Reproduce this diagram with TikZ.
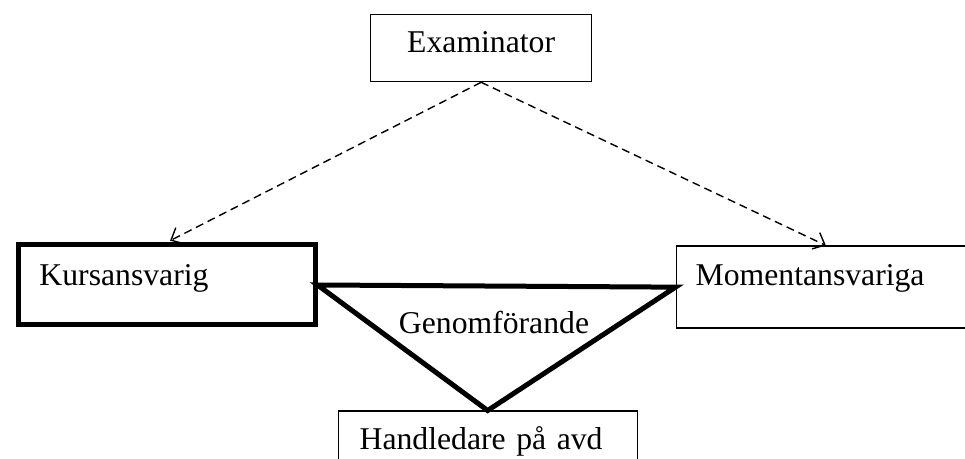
\documentclass[tikz,border=0pt]{standalone}
\usepackage{fontspec}
\setmainfont{Liberation Serif}
\usetikzlibrary{arrows.meta}

\begin{document}
\begin{tikzpicture}[x=0.5pt,y=-0.5pt,>={Straight Barb[length=5pt,width=9pt]},
        font=\fontsize{15.85}{19}\selectfont,
        rolebox/.style={draw,anchor=north west,inner ysep=0pt,line width=0.65pt,align=left},
        thickrole/.style={rolebox,line width=2.5pt},
        leads/.style={dash pattern=on 4pt off 2.5pt,line width=0.7pt,->}]
        \useasboundingbox(0,0)rectangle(965,459);
        \node[rolebox,align=center,inner xsep=0pt,minimum width=110.5pt,text height=19pt,text depth=14.5pt](exam)at(370,14){Examinator};
        \node[thickrole,inner xsep=10.75pt,text width=127pt,text height=20.25pt,text depth=19.75pt](kurs)at(15.5,242.5){Kursansvarig};
        \node[rolebox,inner xsep=9.75pt,text width=130.25pt,text height=19.75pt,text depth=21.25pt](mom)at(675.5,245.5){Momentansvariga};
        \node[rolebox,inner xsep=10.75pt,text width=128pt,text height=19.25pt,text depth=15.5pt](handl)at(337.5,410.5){Handledare på avd};
        \node[anchor=base,inner sep=0pt](genom)at(494,334){Genomförande};
        \draw[leads,shorten >=2pt](exam.south)--(kurs.north);
        \draw[leads](exam.south)--(mom.north);
        \draw[line width=2.5pt](kurs.east)--(mom.west)--(handl.north)--cycle;
    \end{tikzpicture}
\end{document}
